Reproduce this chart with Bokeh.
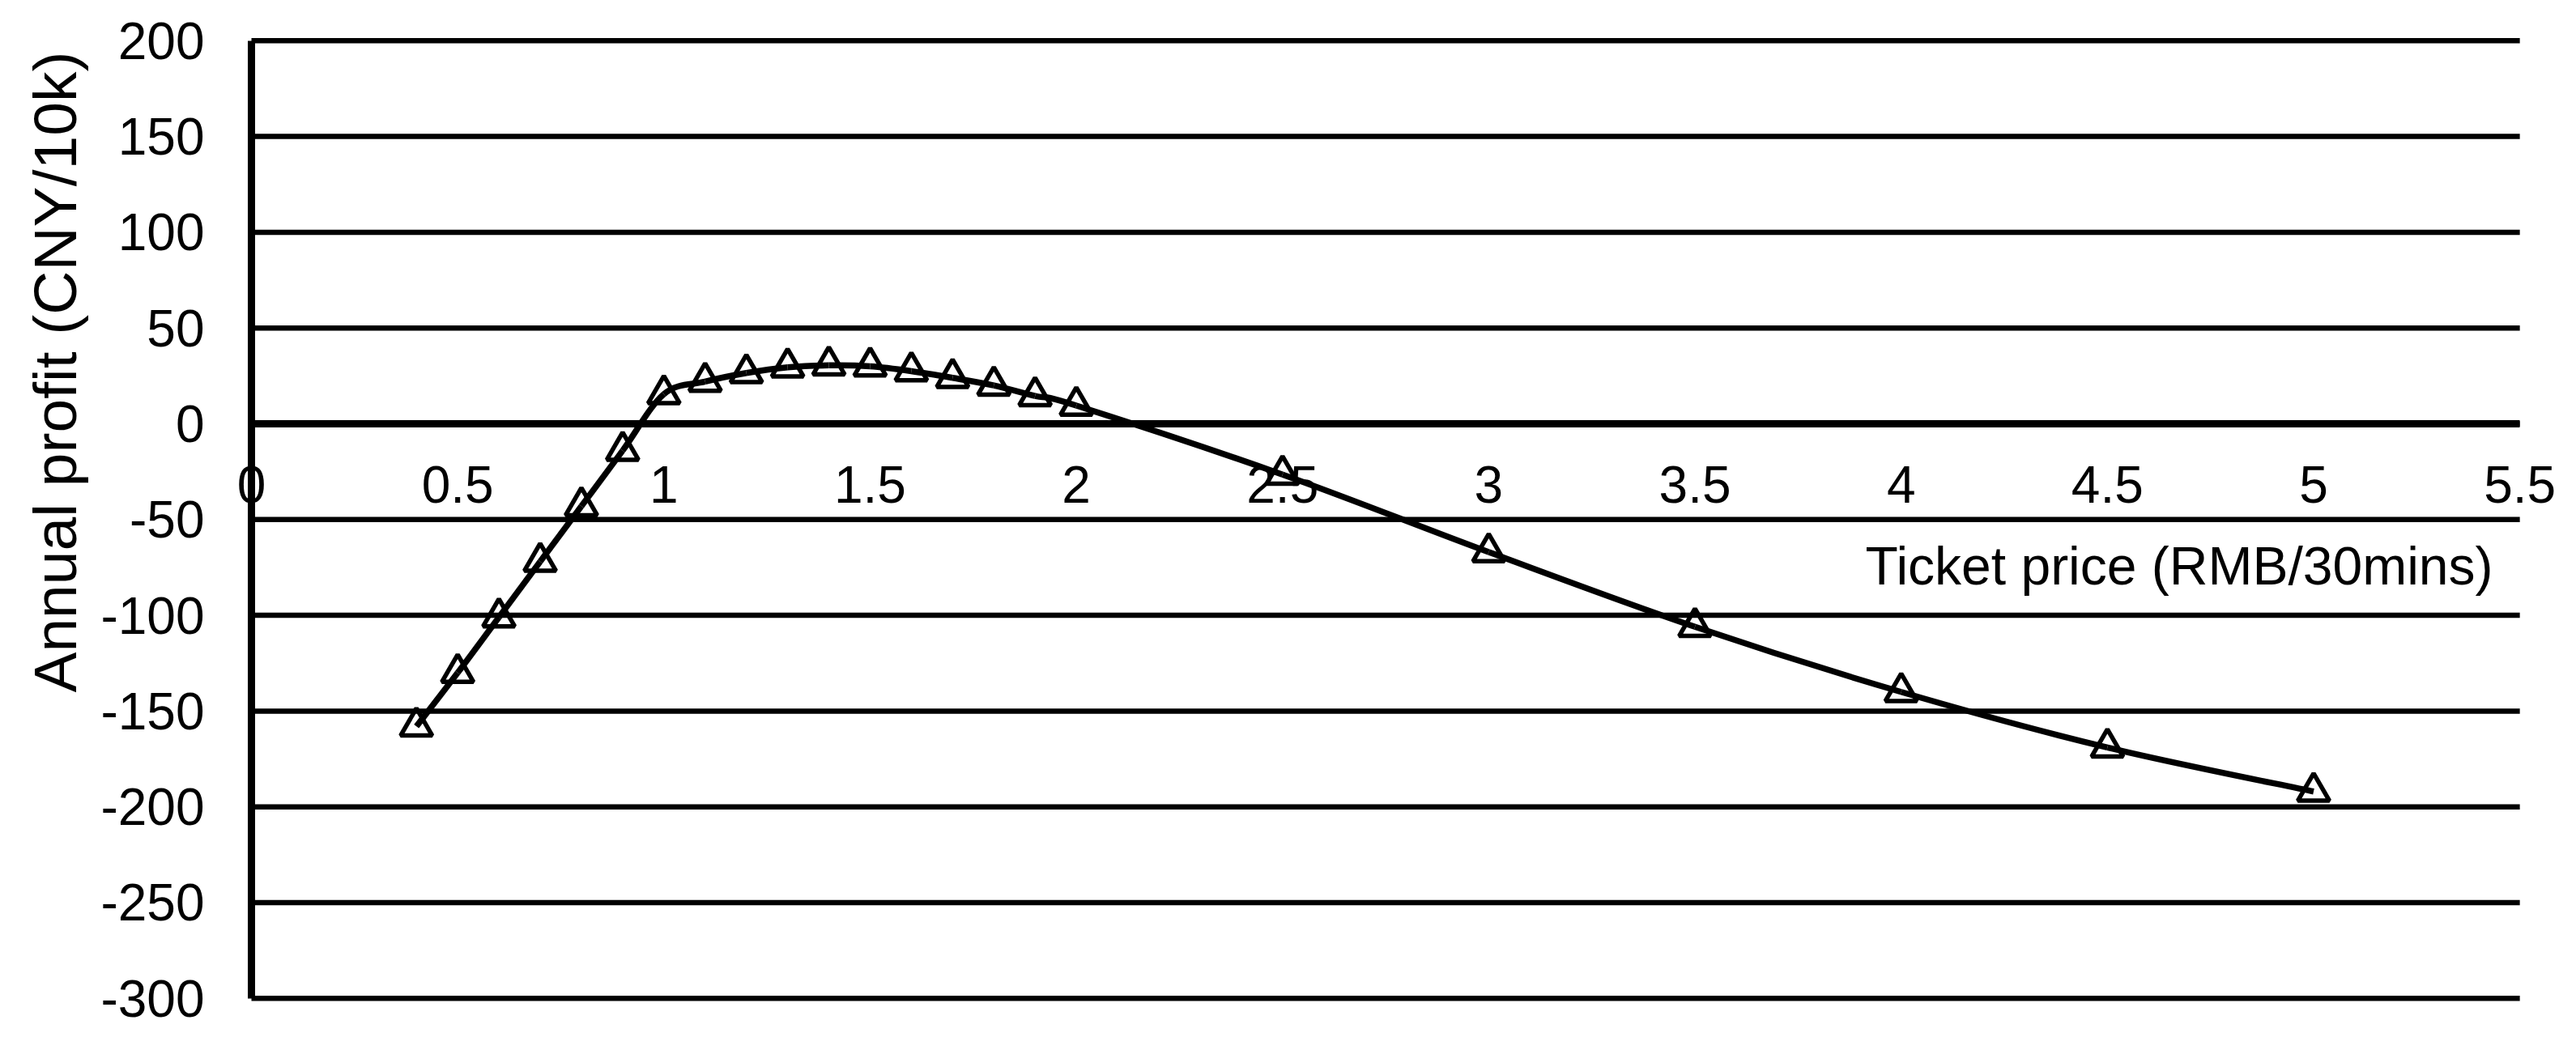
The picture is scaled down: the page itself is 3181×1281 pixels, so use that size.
import math
from bokeh.plotting import figure
from bokeh.models import FixedTicker, LinearAxis, Label, ColumnDataSource, Range1d
from bokeh.embed import file_html
from bokeh.resources import INLINE

# ---- data ----
price = [0.4, 0.5, 0.6, 0.7, 0.8, 0.9, 1.0, 1.1, 1.2, 1.3, 1.4, 1.5, 1.6, 1.7,
         1.8, 1.9, 2.0, 2.5, 3.0, 3.5, 4.0, 4.5, 5.0]
profit = [-158, -130, -101, -72, -43, -14, 15.5, 22, 26.5, 29.5, 30.5, 30, 27.5, 24,
          20, 14.5, 9.5, -26.5, -67, -106, -140, -169, -192]
x_ticks = [0, 0.5, 1, 1.5, 2, 2.5, 3, 3.5, 4, 4.5, 5, 5.5]
x_tick_labels = ["0", "0.5", "1", "1.5", "2", "2.5", "3", "3.5", "4", "4.5", "5", "5.5"]
y_ticks = [-300, -250, -200, -150, -100, -50, 0, 50, 100, 150, 200]
y_tick_labels = ["-300", "-250", "-200", "-150", "-100", "-50", "0", "50", "100", "150", "200"]
x_title = "Ticket price (RMB/30mins)"
y_title = "Annual profit (CNY/10k)"

FONT = "Liberation Sans"
FS = "64px"

W, H = 3180, 1280
# frame covers the whole canvas; axes are placed at fixed locations inside it
p = figure(width=W, height=H, output_backend="svg", toolbar_location=None,
           x_range=Range1d(-0.6087, 5.6352), y_range=Range1d(-319.95, 221.05),
           x_axis_location=None, y_axis_location=None,
           min_border_left=0, min_border_right=0, min_border_top=0, min_border_bottom=0)
p.outline_line_color = None
p.background_fill_color = "white"
p.border_fill_color = "white"
p.xgrid.grid_line_color = None
p.ygrid.grid_line_color = None

# horizontal gridlines from x = 0 to 5.5 at each y tick
p.segment(x0=[x_ticks[0]] * len(y_ticks), x1=[x_ticks[-1]] * len(y_ticks),
          y0=y_ticks, y1=y_ticks, line_color="black", line_width=6.5)

# y axis at x = 0
yax = LinearAxis(ticker=FixedTicker(ticks=y_ticks), fixed_location=0,
                 bounds=(y_ticks[0], y_ticks[-1]))
yax.major_label_overrides = {t: s for t, s in zip(y_ticks, y_tick_labels)}
yax.axis_line_width = 9
yax.axis_line_color = "black"
yax.major_tick_in = 0
yax.major_tick_out = 0
yax.minor_tick_line_color = None
yax.major_label_standoff = 58
yax.major_label_text_font = FONT
yax.major_label_text_font_size = FS
yax.major_label_text_color = "black"
p.add_layout(yax, "left")

# x axis crossing at y = 0
xax = LinearAxis(ticker=FixedTicker(ticks=x_ticks), fixed_location=0,
                 bounds=(x_ticks[0], x_ticks[-1]))
xax.major_label_overrides = {t: s for t, s in zip(x_ticks, x_tick_labels)}
xax.axis_line_width = 9
xax.axis_line_color = "black"
xax.major_tick_in = 0
xax.major_tick_out = 0
xax.minor_tick_line_color = None
xax.major_label_standoff = 52
xax.major_label_text_font = FONT
xax.major_label_text_font_size = FS
xax.major_label_text_color = "black"
p.add_layout(xax, "below")

# smoothed line via cubic Bezier segments (Excel-like smoothing)
n = len(price)
x0s, y0s, x1s, y1s, cx0, cy0, cx1, cy1 = [], [], [], [], [], [], [], []
for i in range(n - 1):
    xm, ym = (price[i - 1], profit[i - 1]) if i > 0 else (price[i], profit[i])
    xa, ya = price[i], profit[i]
    xb, yb = price[i + 1], profit[i + 1]
    xp, yp = (price[i + 2], profit[i + 2]) if i + 2 < n else (xb, yb)
    x0s.append(xa); y0s.append(ya); x1s.append(xb); y1s.append(yb)
    cx0.append(xa + (xb - xm) / 6); cy0.append(ya + (yb - ym) / 6)
    cx1.append(xb - (xp - xa) / 6); cy1.append(yb - (yp - ya) / 6)
p.bezier(x0=x0s, y0=y0s, x1=x1s, y1=y1s, cx0=cx0, cy0=cy0, cx1=cx1, cy1=cy1,
         line_color="black", line_width=7.5)

src = ColumnDataSource(dict(x=price, y=profit))
p.scatter("x", "y", source=src, marker="triangle", size=39,
          line_color="black", line_width=5.5, fill_alpha=0)

# axis titles
p.add_layout(Label(x=5.435, y=-74, text=x_title, text_align="right",
                   text_baseline="alphabetic", text_font=FONT, text_font_size="66px",
                   text_color="black"))
p.add_layout(Label(x=-0.477, y=27, text=y_title, angle=math.pi / 2,
                   text_align="center", text_baseline="middle", text_font=FONT,
                   text_font_size="75px", text_color="black"))

open("out.html", "w").write(file_html(p, INLINE))
